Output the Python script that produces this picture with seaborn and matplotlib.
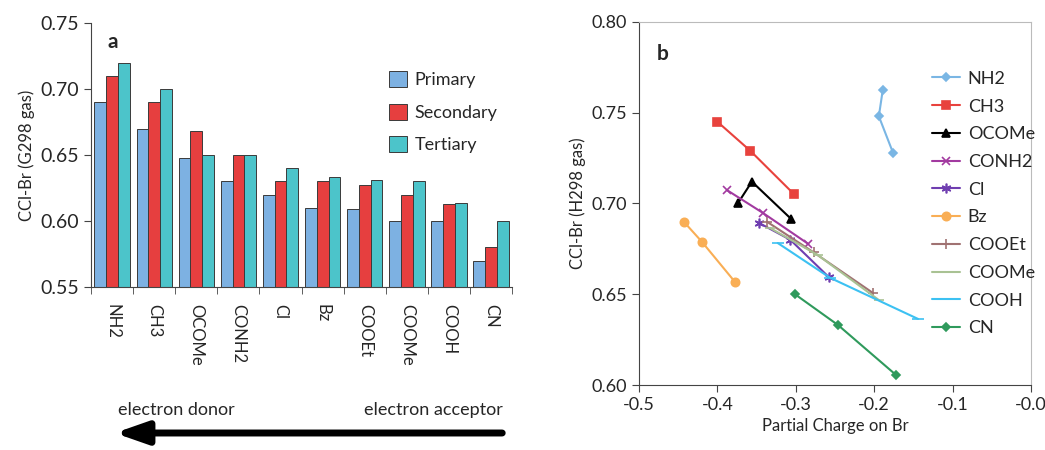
import numpy as np
import pandas as pd
import matplotlib
matplotlib.use("Agg")
import matplotlib.pyplot as plt
import seaborn as sns
from matplotlib.ticker import FixedLocator, FormatStrFormatter

# ── Data ──────────────────────────────────────
groups = ["NH2", "CH3", "OCOMe", "CONH2", "Cl", "Bz", "COOEt", "COOMe", "COOH", "CN"]
degrees = ["Primary", "Secondary", "Tertiary"]

primary   = [0.690, 0.670, 0.648, 0.630, 0.620, 0.610, 0.609, 0.600, 0.600, 0.570]
secondary = [0.710, 0.690, 0.668, 0.650, 0.630, 0.630, 0.627, 0.620, 0.613, 0.580]
tertiary  = [0.720, 0.700, 0.650, 0.650, 0.640, 0.633, 0.631, 0.630, 0.614, 0.600]

# partial charge on Br (x) and CCl-Br H298 (y): primary, secondary, tertiary
charge = {
    "NH2":   [-0.189, -0.194, -0.176],
    "CH3":   [-0.400, -0.358, -0.302],
    "OCOMe": [-0.374, -0.356, -0.306],
    "CONH2": [-0.388, -0.342, -0.284],
    "Cl":    [-0.347, -0.307, -0.258],
    "Bz":    [-0.443, -0.420, -0.378],
    "COOEt": [-0.337, -0.277, -0.2015],
    "COOMe": [-0.333, -0.272, -0.194],
    "COOH":  [-0.323, -0.256, -0.144],
    "CN":    [-0.301, -0.246, -0.172],
}
cclbr_h = {
    "NH2":   [0.7625, 0.748, 0.728],
    "CH3":   [0.745, 0.729, 0.705],
    "OCOMe": [0.700, 0.712, 0.6915],
    "CONH2": [0.7074, 0.6948, 0.6777],
    "Cl":    [0.6893, 0.680, 0.6595],
    "Bz":    [0.690, 0.679, 0.657],
    "COOEt": [0.690, 0.673, 0.6507],
    "COOMe": [0.6865, 0.6716, 0.6468],
    "COOH":  [0.6782, 0.659, 0.6364],
    "CN":    [0.650, 0.633, 0.6055],
}

# ── Style ─────────────────────────────────────
sns.set_style("ticks")
plt.rcParams["font.family"] = ["Lato", "DejaVu Sans"]
plt.rcParams["axes.unicode_minus"] = False
FS = 12

bar_colors = ["#7db1e2", "#e63f3f", "#4cc4ca"]
line_style = {
    "NH2":   dict(color="#7ab6e4", marker="D", ms=4),
    "CH3":   dict(color="#e8423d", marker="s", ms=6),
    "OCOMe": dict(color="black",   marker="^", ms=6),
    "CONH2": dict(color="#a23aa0", marker="x", ms=6),
    "Cl":    dict(color="#6f3eb0", marker=(6, 2, 0), ms=7),
    "Bz":    dict(color="#f9ae55", marker="o", ms=6),
    "COOEt": dict(color="#a07272", marker="+", ms=7),
    "COOMe": dict(color="#a9c293", marker="_", ms=7),
    "COOH":  dict(color="#3cc1f2", marker="_", ms=8),
    "CN":    dict(color="#2f9a5c", marker="D", ms=4),
}

fig = plt.figure(figsize=(10.45, 4.5), dpi=100)

# ── Panel a: bars ─────────────────────────────
ax1 = fig.add_axes([0.0871, 0.362, 0.403, 0.587])
df = pd.DataFrame({"group": groups, "Primary": primary,
                   "Secondary": secondary, "Tertiary": tertiary})
df = df.melt(id_vars="group", var_name="degree", value_name="cclbr")
sns.barplot(data=df, x="group", y="cclbr", hue="degree", order=groups,
            hue_order=degrees, palette=bar_colors, saturation=1, width=0.84,
            edgecolor="#3a3a3a", linewidth=0.7, ax=ax1)

ax1.set_ylim(0.55, 0.75)
ax1.set_xlim(-0.5, len(groups) - 0.5)
ax1.yaxis.set_major_locator(FixedLocator(np.arange(0.55, 0.751, 0.05)))
ax1.yaxis.set_major_formatter(FormatStrFormatter("%.2f"))
ax1.set_ylabel("CCl-Br (G298 gas)", fontsize=FS)
ax1.set_xlabel("")
ax1.tick_params(axis="y", labelsize=FS + 2, length=5, color="#444444")
ax1.tick_params(axis="x", which="major", length=0, labelsize=FS, pad=12,
                labelrotation=-90)
ax1.set_xticks(np.arange(-0.5, len(groups), 1.0), minor=True)
ax1.tick_params(axis="x", which="minor", length=5, color="#444444")
for lab in ax1.get_xticklabels():
    lab.set_verticalalignment("top")
for s in ["left", "bottom"]:
    ax1.spines[s].set_color("#444444")
sns.despine(ax=ax1)
ax1.legend(loc="upper left", bbox_to_anchor=(0.67, 0.88), frameon=False,
           fontsize=FS + 1, handlelength=1.0, handleheight=1.0,
           labelspacing=0.85, handletextpad=0.4)
ax1.text(0.04, 0.965, "a", transform=ax1.transAxes, fontsize=FS + 3,
         fontweight="bold", va="top")

# arrow and labels
fig.text(118 / 1045, 1 - 410 / 450, "electron donor", fontsize=FS + 1,
         va="center", ha="left")
fig.text(503 / 1045, 1 - 410 / 450, "electron acceptor", fontsize=FS + 1,
         va="center", ha="right")
fig.add_artist(matplotlib.patches.FancyArrowPatch(
    (505 / 1045, 1 - 433 / 450), (112 / 1045, 1 - 433 / 450),
    transform=fig.transFigure, arrowstyle="-|>,head_length=8,head_width=2.8",
    mutation_scale=2.4, lw=5, color="black"))

# ── Panel b: lines ────────────────────────────
ax2 = fig.add_axes([0.6115, 0.1444, 0.375, 0.807])
for name in groups:
    st = line_style[name]
    sns.lineplot(x=charge[name], y=cclbr_h[name], sort=False, ax=ax2,
                 color=st["color"], marker=st["marker"], markersize=st["ms"],
                 markeredgecolor=st["color"], markeredgewidth=1.2,
                 linewidth=1.5, label=name)

ax2.set_xlim(-0.5, 0.0)
ax2.set_ylim(0.60, 0.80)
ax2.xaxis.set_major_locator(FixedLocator(np.arange(-0.5, 0.01, 0.1)))
ax2.xaxis.set_major_formatter(FormatStrFormatter("%.1f"))
ax2.yaxis.set_major_locator(FixedLocator(np.arange(0.60, 0.801, 0.05)))
ax2.yaxis.set_major_formatter(FormatStrFormatter("%.2f"))
ax2.tick_params(labelsize=FS + 1, length=5, color="#444444")
ax2.set_xlabel("Partial Charge on Br", fontsize=FS)
ax2.set_ylabel("CCl-Br (H298 gas)", fontsize=FS)
for s in ["left", "bottom"]:
    ax2.spines[s].set_color("#444444")
for s in ["top", "right"]:
    ax2.spines[s].set_color("#bbbbbb")
ax2.legend(loc="upper left", bbox_to_anchor=(0.705, 0.91), frameon=False,
           fontsize=FS + 1, handlelength=1.6, labelspacing=0.65,
           handletextpad=0.4)
ax2.text(0.045, 0.94, "b", transform=ax2.transAxes, fontsize=FS + 3,
         fontweight="bold", va="top")

plt.savefig("out.png", dpi=100)
plt.close()
